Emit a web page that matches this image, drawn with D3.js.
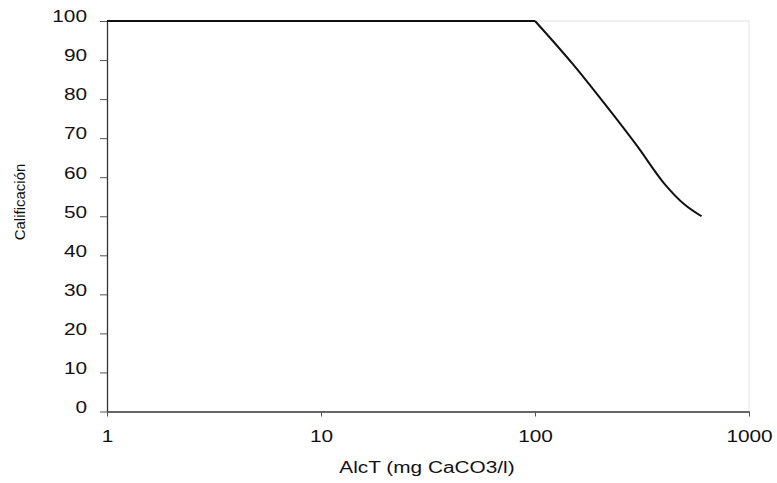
<!DOCTYPE html>
<html>
<head>
<meta charset="utf-8">
<script src="https://cdn.jsdelivr.net/npm/d3@7"></script>
<style>
  body { margin: 0; background: #fff; }
  svg { display: block; font-family: 'Liberation Sans', Arial, sans-serif; }
</style>
</head>
<body>
<svg id="chart" width="777" height="483"></svg>
<script>
// values
const alct = [1, 100, 150, 200, 300, 400, 500, 600];
const calificacion = [100, 100, 89, 80.5, 68, 58.5, 53, 50];
const xTicks = [1, 10, 100, 1000];
const yTicks = [0, 10, 20, 30, 40, 50, 60, 70, 80, 90, 100];

const margin = { top: 21, right: 28, bottom: 72, left: 107 };
const svg = d3.select('#chart');
const width = +svg.attr('width');
const height = +svg.attr('height');
const stretch = 1.3;

const x = d3.scaleLog()
  .domain([1, 1000])
  .range([margin.left, width - margin.right]);

const y = d3.scaleLinear()
  .domain([0, 100])
  .range([height - margin.bottom + 0.5, margin.top]);

// faint frame on top / right
svg.append('path')
  .attr('d', `M${x(1)},${y(100)}H${x(1000)}V${y(0)}`)
  .attr('fill', 'none')
  .attr('stroke', '#ececec')
  .attr('stroke-width', 1.5);

const yAxis = svg.append('g')
  .attr('transform', `translate(${margin.left},0)`)
  .call(d3.axisLeft(y).tickValues(yTicks).tickSize(7).tickPadding(13).tickSizeOuter(0));

const xAxis = svg.append('g')
  .attr('transform', `translate(0,${y(0)})`)
  .call(d3.axisBottom(x).tickValues(xTicks).tickFormat(d3.format('d')).tickSize(5).tickPadding(14).tickSizeOuter(0));

[yAxis, xAxis].forEach(g => {
  g.selectAll('.domain').attr('stroke', '#333').attr('stroke-width', 1.3);
  g.selectAll('.tick line').attr('stroke', '#555');
  g.selectAll('.tick text')
    .attr('fill', '#111')
    .style('font-size', '16px')
    .style('font-family', "'Liberation Sans', Arial, sans-serif");
});
yAxis.selectAll('.tick text').attr('dy', '0.05em');

const line = d3.line()
  .x(d => x(d[0]))
  .y(d => y(d[1]));

const pts = alct.map((v, i) => [v, calificacion[i]]);

// flat part, then the smooth descent (sharp corner at 100)
svg.append('path')
  .datum(pts.slice(0, 2))
  .attr('d', line)
  .attr('fill', 'none')
  .attr('stroke', '#111')
  .attr('stroke-width', 2);

svg.append('path')
  .datum(pts.slice(1))
  .attr('d', line.curve(d3.curveMonotoneX))
  .attr('fill', 'none')
  .attr('stroke', '#111')
  .attr('stroke-width', 2);

svg.append('text')
  .attr('class', 'stretch')
  .attr('x', 427)
  .attr('y', 473)
  .attr('text-anchor', 'middle')
  .style('font-size', '16px')
  .attr('fill', '#111')
  .text('AlcT (mg CaCO3/l)');

svg.append('text')
  .attr('transform', 'translate(24.5,202)rotate(-90)')
  .attr('text-anchor', 'middle')
  .style('font-size', '15px')
  .attr('fill', '#111')
  .text('Calificación');

// the reference text is wider than the font; widen glyphs horizontally
svg.selectAll('.tick text, text.stretch').each(function () {
  const w = this.getComputedTextLength();
  d3.select(this)
    .attr('textLength', w * stretch)
    .attr('lengthAdjust', 'spacingAndGlyphs');
});
</script>
</body>
</html>
